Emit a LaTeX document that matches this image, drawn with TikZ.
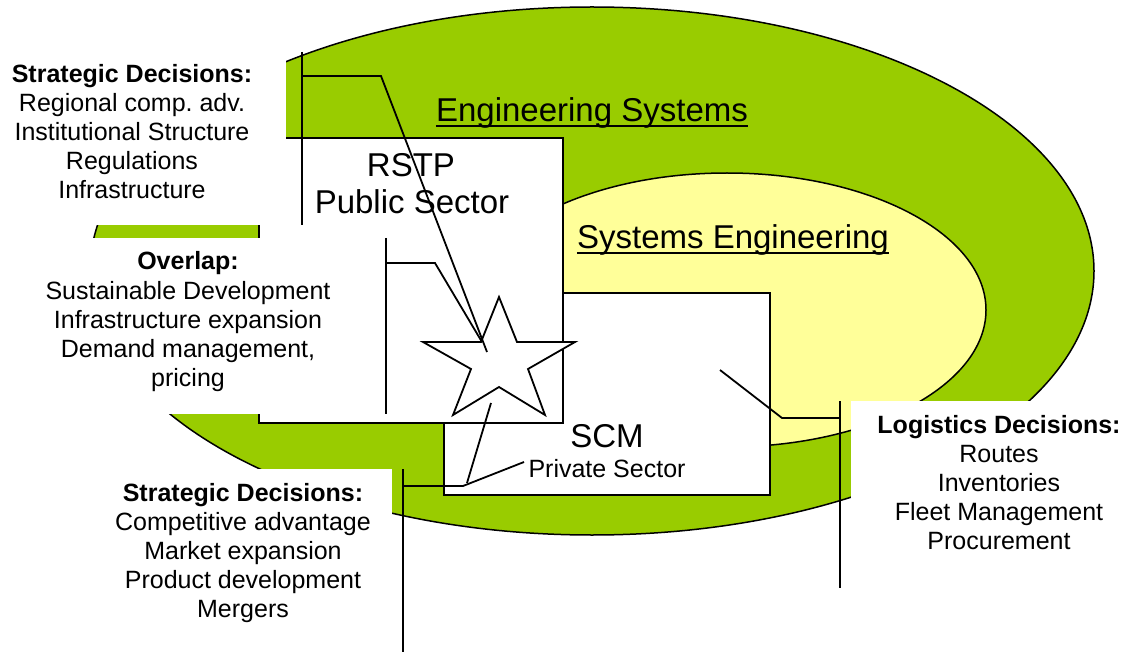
\documentclass[tikz,border=0pt]{standalone}
\usepackage{fontspec}
\setmainfont{Liberation Sans}
\definecolor{egreen}{HTML}{99CC00}
\definecolor{syellow}{HTML}{FFFF99}
\newcommand\callfont{\fontsize{25}{29}\selectfont}
\newcommand\bigfont{\fontsize{33}{38}\selectfont}
\begin{document}
\begin{tikzpicture}[x=1pt,y=-1pt,
  outline/.style={draw=black,line width=1.5pt},
  boxst/.style={draw=black,fill=white,line width=2pt,inner sep=0pt},
  mask/.style={fill=white,draw=none,inner sep=0pt},
  lead/.style={draw=black,line width=1.8pt},
  bar/.style={draw=black,line width=2pt},
  lbl/.style={anchor=base,inner sep=0pt,font=\callfont},
  lblb/.style={lbl,font=\callfont\bfseries},
  big/.style={anchor=base,inner sep=0pt,font=\bigfont},
  uline/.style={draw=black,line width=2.4pt}
]
\useasboundingbox (0,0) rectangle (1125,655);
\fill[white] (0,0) rectangle (1125,655);
% ellipses
\draw[outline,fill=egreen] (592,271) ellipse [x radius=502pt,y radius=264pt];
\draw[outline,fill=syellow] (727,310) ellipse [x radius=259pt,y radius=137pt];
% boxes
\node[boxst,minimum width=326pt,minimum height=202pt] (scm) at (607,394) {};
\node[boxst,minimum width=304pt,minimum height=285pt] (rstp) at (411,280.5) {};
% star
\draw[boxst,line width=1.8pt] (499,297) -- (517,342) -- (575,342) -- (528,369) -- (545,415)
  -- (499,387) -- (453,415) -- (471,369) -- (423,342) -- (481,342) -- cycle;
% callout text boxes
\node[mask,minimum width=286pt,minimum height=173pt] (m1) at (143,138.5) {};
\node[mask,minimum width=372pt,minimum height=176pt] (m2) at (186,326) {};
\node[mask,minimum width=302pt,minimum height=186pt] (m3) at (241,562) {};
\node[mask,minimum width=274pt,minimum height=199pt] (m4) at (988,500.5) {};
% coordinates
\coordinate (b1t) at (302,52);  \coordinate (b1b) at (302,225);
\coordinate (k1a) at (302,76);  \coordinate (k1b) at (381,76);  \coordinate (t1) at (487,352);
\coordinate (b2t) at (386,238); \coordinate (b2b) at (386,414);
\coordinate (k2a) at (386,263); \coordinate (k2b) at (435,263); \coordinate (t2) at (482,342);
\coordinate (b3t) at (403,469); \coordinate (b3b) at (403,652);
\coordinate (k3a) at (403,486); \coordinate (k3b) at (463,486); \coordinate (t3) at (524,462);
\coordinate (k3c) at (467,483); \coordinate (t3b) at (491,403);
\coordinate (b4t) at (840,401); \coordinate (b4b) at (840,588);
\coordinate (k4a) at (840,418); \coordinate (k4b) at (782,418); \coordinate (t4) at (720,370);
% bars and leaders
\draw[bar] (b1t) -- (b1b);
\draw[lead] (k1a) -- (k1b) -- (t1);
\draw[bar] (b2t) -- (b2b);
\draw[lead] (k2a) -- (k2b) -- (t2);
\draw[bar] (b3t) -- (b3b);
\draw[lead] (k3a) -- (k3b) -- (t3);
\draw[lead] (k3c) -- (t3b);
\draw[bar] (b4t) -- (b4b);
\draw[lead] (k4a) -- (k4b) -- (t4);
% big labels
\node[big] (es) at (592,122) {Engineering Systems};
\draw[uline] ([yshift=-4pt]es.base west) -- ([yshift=-4pt]es.base east);
\node[big] (se) at (733,249) {Systems Engineering};
\draw[uline] ([yshift=-4pt]se.base west) -- ([yshift=-4pt]se.base east);
\node[big] (r1) at (411,177) {RSTP};
\node[big] (r2) at (412,214) {Public Sector};
\node[big] (s1) at (607,447) {SCM};
\node[lbl] (s2) at (607,477) {Private Sector};
% callout 1
\node[lblb] (c1t) at (132,83) {Strategic Decisions:};
\node[lbl] (c1a) at (132,112) {Regional comp.\ adv.};
\node[lbl] (c1b) at (132,141) {Institutional Structure};
\node[lbl] (c1c) at (132,170) {Regulations};
\node[lbl] (c1d) at (132,199) {Infrastructure};
% callout 2
\node[lblb] (c2t) at (188,270) {Overlap:};
\node[lbl] (c2a) at (188,299) {Sustainable Development};
\node[lbl] (c2b) at (188,328) {Infrastructure expansion};
\node[lbl] (c2c) at (188,357) {Demand management,};
\node[lbl] (c2d) at (188,386) {pricing};
% callout 3
\node[lblb] (c3t) at (243,501) {Strategic Decisions:};
\node[lbl] (c3a) at (243,530) {Competitive advantage};
\node[lbl] (c3b) at (243,559) {Market expansion};
\node[lbl] (c3c) at (243,588) {Product development};
\node[lbl] (c3d) at (243,617) {Mergers};
% callout 4
\node[lblb] (c4t) at (999,433) {Logistics Decisions:};
\node[lbl] (c4a) at (999,462) {Routes};
\node[lbl] (c4b) at (999,491) {Inventories};
\node[lbl] (c4c) at (999,520) {Fleet Management};
\node[lbl] (c4d) at (999,549) {Procurement};
\end{tikzpicture}
\end{document}
